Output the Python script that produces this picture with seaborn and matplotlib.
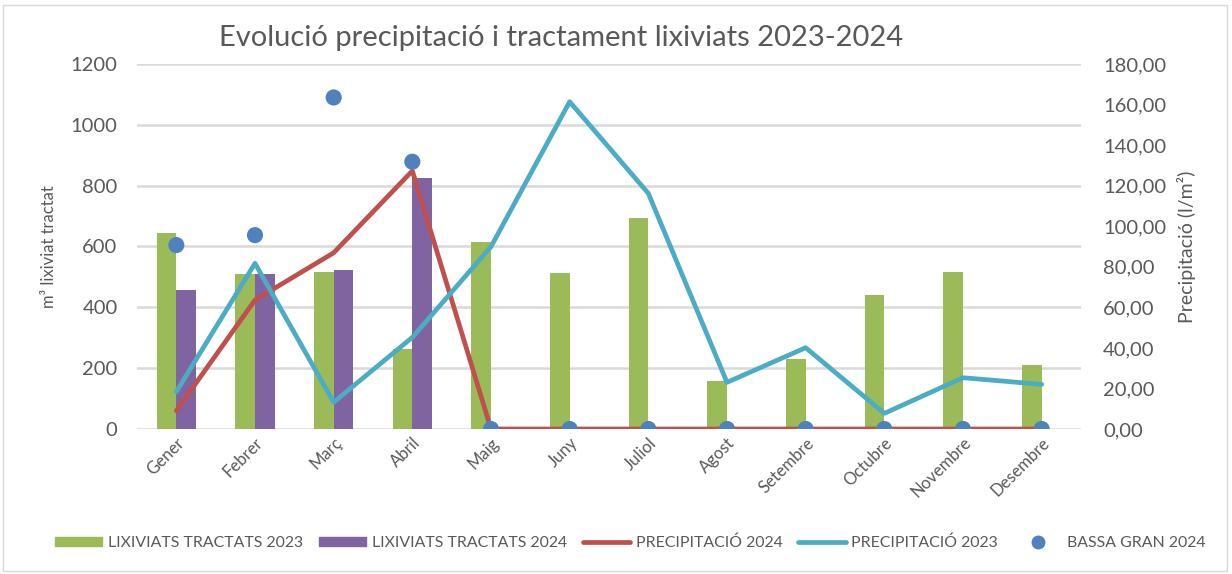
import pandas as pd
import numpy as np
import matplotlib.pyplot as plt
import matplotlib.patches as mpatches
from matplotlib.lines import Line2D
import seaborn as sns

# Dades llegides del gràfic
mesos = ['Gener', 'Febrer', 'Març', 'Abril', 'Maig', 'Juny', 'Juliol',
         'Agost', 'Setembre', 'Octubre', 'Novembre', 'Desembre']
lixiviats_2023 = [645, 510, 517, 263, 616, 512, 693, 158, 229, 440, 516, 209]
lixiviats_2024 = [458, 509, 522, 824, np.nan, np.nan, np.nan, np.nan, np.nan, np.nan, np.nan, np.nan]
precip_2024 = [9.0, 63.6, 86.9, 127.3, 0, 0, 0, 0, 0, 0, 0, 0]
precip_2023 = [18.4, 81.7, 13.2, 45.2, 89.9, 161.4, 116.2, 23.0, 40.1, 7.7, 25.3, 22.0]
bassa_gran_2024 = [90.7, 95.6, 163.5, 131.8, 0, 0, 0, 0, 0, 0, 0, 0]

verd = '#9BBB59'
lila = '#8064A2'
vermell = '#C0504D'
cian = '#4BACC6'
blau = '#4F81BD'
gris = '#595959'

sns.set_style('white')
plt.rcParams['font.family'] = ['Lato', 'DejaVu Sans']

df = pd.DataFrame({
    'mes': mesos * 2,
    'valor': lixiviats_2023 + lixiviats_2024,
    'serie': ['LIXIVIATS TRACTATS 2023'] * 12 + ['LIXIVIATS TRACTATS 2024'] * 12,
})

fig = plt.figure(figsize=(12.32, 5.74), dpi=100)
ax = fig.add_axes([137 / 1232, 1 - 429 / 574, (1081 - 137) / 1232, (429 - 64) / 574])

sns.barplot(data=df, x='mes', y='valor', hue='serie', order=mesos,
            palette=[verd, lila], width=0.5, gap=0, ax=ax, legend=False,
            edgecolor='none', saturation=1)
ax.set_ylim(0, 1200)
ax.set_yticks(range(0, 1201, 200))
ax.set_xlim(-0.5, 11.5)
ax.grid(axis='y', color='#D9D9D9', linewidth=1.8)
ax.set_axisbelow(True)
for s in ax.spines.values():
    s.set_visible(False)
ax.set_xlabel('')
ax.set_ylabel('m³ lixiviat tractat', fontsize=12, color=gris, labelpad=10)
ax.tick_params(axis='y', labelsize=14.5, colors=gris, length=0, pad=14)
ax.tick_params(axis='x', labelsize=12, colors=gris, length=0, pad=4)
plt.setp(ax.get_xticklabels(), rotation=45, ha='right', rotation_mode='anchor')

ax2 = ax.twinx()
x = np.arange(len(mesos))
ax2.plot(x, precip_2024, color=vermell, linewidth=3.4, solid_capstyle='round')
ax2.plot(x, precip_2023, color=cian, linewidth=3.4, solid_capstyle='round')
sns.scatterplot(x=x, y=bassa_gran_2024, ax=ax2, color=blau, s=135,
                edgecolor='none', zorder=5)
ax2.set_ylim(0, 180)
ax2.set_yticks(range(0, 181, 20))
ax2.set_yticklabels([f'{v},00' for v in range(0, 181, 20)])
ax2.set_xlim(-0.5, 11.5)
for s in ax2.spines.values():
    s.set_visible(False)
ax2.set_ylabel('Precipitació (l/m²)', fontsize=14, color=gris, labelpad=8)
ax2.tick_params(axis='y', labelsize=14.5, colors=gris, length=0, pad=16)

fig.text(561 / 1232, 1 - 38 / 574, 'Evolució precipitació i tractament lixiviats 2023-2024',
         ha='center', va='center', fontsize=21, color=gris)

handles = [
    mpatches.Patch(color=verd, label='LIXIVIATS TRACTATS 2023'),
    mpatches.Patch(color=lila, label='LIXIVIATS TRACTATS 2024'),
    Line2D([0], [0], color=vermell, linewidth=3.4, solid_capstyle='round', label='PRECIPITACIÓ 2024'),
    Line2D([0], [0], color=cian, linewidth=3.4, solid_capstyle='round', label='PRECIPITACIÓ 2023'),
    Line2D([0], [0], color=blau, marker='o', linestyle='none', markersize=9, label='BASSA GRAN 2024'),
]
leg = fig.legend(handles=handles, loc='center', bbox_to_anchor=(630 / 1232, 1 - 543 / 574),
                 ncol=5, frameon=False, fontsize=11.4, handlelength=3.0, handleheight=0.45,
                 columnspacing=1.0, handletextpad=0.35)
for t in leg.get_texts():
    t.set_color(gris)

fig.patches.append(mpatches.Rectangle((3 / 1232, 3 / 574), 1 - 8 / 1232, 1 - 8 / 574,
                                      transform=fig.transFigure, fill=False,
                                      edgecolor='#D9D9D9', linewidth=1))

fig.savefig('out.png', dpi=100)
